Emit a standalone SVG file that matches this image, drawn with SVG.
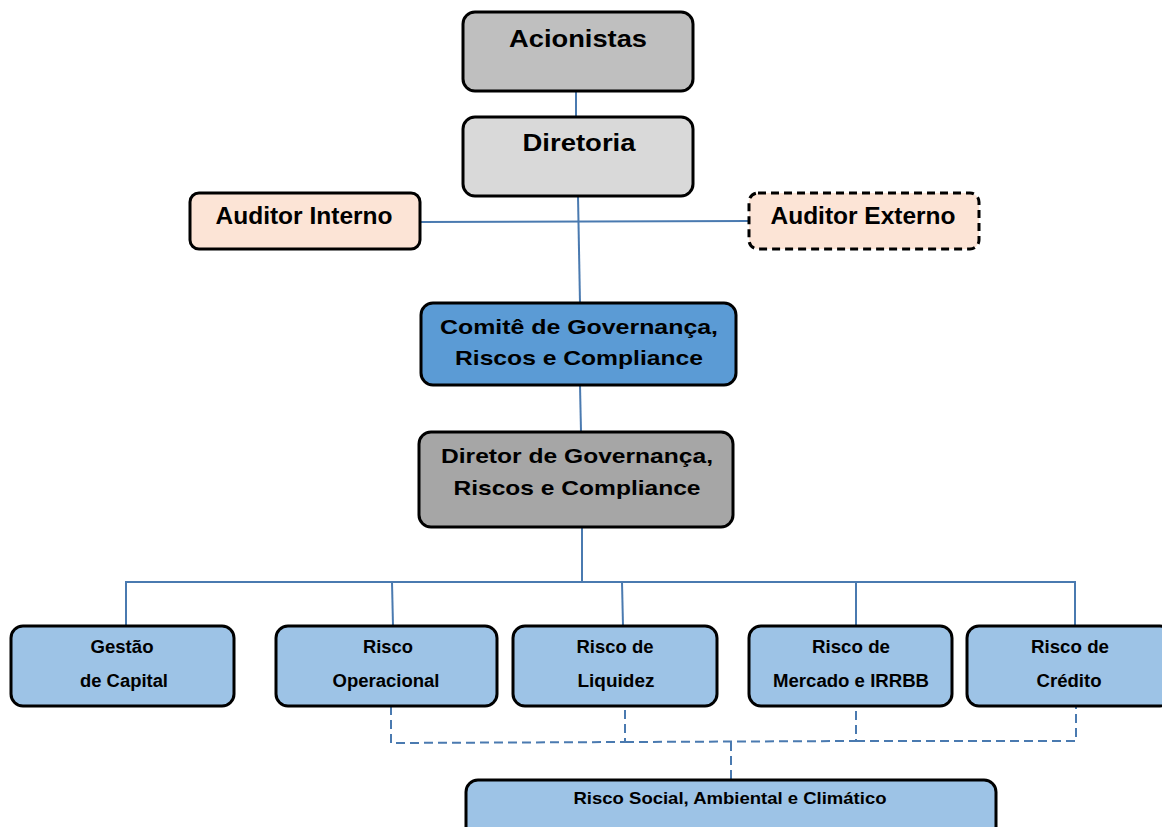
<svg xmlns="http://www.w3.org/2000/svg" width="1162" height="827" viewBox="0 0 1162 827">
<style>
.box{stroke:#000;stroke-width:3}
.t{font-family:"Liberation Sans",Arial,sans-serif;font-weight:bold;fill:#000;text-anchor:middle}
.big{font-size:24px}
.mid{font-size:21px}
.nar{font-size:23px}
.sm{font-size:18px}
.c{fill:none;stroke:#4a7ab0;stroke-width:2}
.d{fill:none;stroke:#4a7ab0;stroke-width:2;stroke-dasharray:9 5}
</style>
<rect width="1162" height="827" fill="#fff"/>
<g id="connectors">
<line class="c" x1="576" y1="91" x2="576" y2="117"/>
<line class="c" x1="578" y1="196" x2="580" y2="303"/>
<line class="c" x1="420" y1="222" x2="749" y2="221"/>
<line class="c" x1="580" y1="385" x2="581" y2="432"/>
<line class="c" x1="582" y1="527" x2="582" y2="582"/>
<polyline class="c" points="126,626 126,582 1075,582 1075,626"/>
<line class="c" x1="392" y1="582" x2="393" y2="626"/>
<line class="c" x1="622" y1="582" x2="623" y2="626"/>
<line class="c" x1="856" y1="582" x2="856" y2="626"/>
<polyline class="d" points="391,706 391,743 625,742 625,706"/>
<polyline class="d" points="625,742 856,741 856,706"/>
<polyline class="d" points="856,741 1076,741 1076,706"/>
<line class="d" x1="731" y1="742" x2="731" y2="780"/>
</g>
<g id="acionistas"><rect class="box" x="463" y="12" width="230" height="79" rx="12" fill="#bfbfbf"/><text class="t big" x="578" y="47" textLength="138" lengthAdjust="spacingAndGlyphs">Acionistas</text></g>
<g id="diretoria"><rect class="box" x="463" y="117" width="230" height="79" rx="12" fill="#d9d9d9"/><text class="t big" x="579" y="151" textLength="113" lengthAdjust="spacingAndGlyphs">Diretoria</text></g>
<g id="auditor-interno"><rect class="box" x="190" y="193" width="230" height="56" rx="9" fill="#fce4d6"/><text class="t nar" x="304" y="224" textLength="177" lengthAdjust="spacingAndGlyphs">Auditor Interno</text></g>
<g id="auditor-externo"><rect class="box" x="749" y="193" width="230" height="56" rx="9" fill="#fce4d6" stroke-dasharray="8 5"/><text class="t nar" x="863" y="224" textLength="185" lengthAdjust="spacingAndGlyphs">Auditor Externo</text></g>
<g id="comite"><rect class="box" x="421" y="303" width="315" height="82" rx="12" fill="#5b9bd5"/><text class="t mid" x="579" y="334" textLength="278" lengthAdjust="spacingAndGlyphs">Comitê de Governança,</text><text class="t mid" x="579" y="365" textLength="248" lengthAdjust="spacingAndGlyphs">Riscos e Compliance</text></g>
<g id="diretor"><rect class="box" x="419" y="432" width="314" height="95" rx="12" fill="#a6a6a6"/><text class="t mid" x="577" y="463" textLength="272" lengthAdjust="spacingAndGlyphs">Diretor de Governança,</text><text class="t mid" x="577" y="495" textLength="247" lengthAdjust="spacingAndGlyphs">Riscos e Compliance</text></g>
<g id="gestao-capital"><rect class="box" x="11" y="626" width="223" height="80" rx="12" fill="#9dc3e6"/><text class="t sm" x="122" y="653" textLength="63" lengthAdjust="spacingAndGlyphs">Gestão</text><text class="t sm" x="124" y="687" textLength="88" lengthAdjust="spacingAndGlyphs">de Capital</text></g>
<g id="risco-operacional"><rect class="box" x="276" y="626" width="221" height="80" rx="12" fill="#9dc3e6"/><text class="t sm" x="388" y="653" textLength="50" lengthAdjust="spacingAndGlyphs">Risco</text><text class="t sm" x="386" y="687" textLength="107" lengthAdjust="spacingAndGlyphs">Operacional</text></g>
<g id="risco-liquidez"><rect class="box" x="513" y="626" width="204" height="80" rx="12" fill="#9dc3e6"/><text class="t sm" x="615" y="653" textLength="77" lengthAdjust="spacingAndGlyphs">Risco de</text><text class="t sm" x="616" y="687" textLength="77" lengthAdjust="spacingAndGlyphs">Liquidez</text></g>
<g id="risco-mercado"><rect class="box" x="749" y="626" width="203" height="80" rx="12" fill="#9dc3e6"/><text class="t sm" x="851" y="653" textLength="78" lengthAdjust="spacingAndGlyphs">Risco de</text><text class="t sm" x="851" y="687" textLength="156" lengthAdjust="spacingAndGlyphs">Mercado e IRRBB</text></g>
<g id="risco-credito"><rect class="box" x="967" y="626" width="205" height="80" rx="12" fill="#9dc3e6"/><text class="t sm" x="1070" y="653" textLength="78" lengthAdjust="spacingAndGlyphs">Risco de</text><text class="t sm" x="1069" y="687" textLength="65" lengthAdjust="spacingAndGlyphs">Crédito</text></g>
<g id="risco-social"><rect class="box" x="466" y="780" width="530" height="62" rx="12" fill="#9dc3e6"/><text class="t" font-size="17" x="730" y="804" textLength="313" lengthAdjust="spacingAndGlyphs">Risco Social, Ambiental e Climático</text></g>
</svg>
